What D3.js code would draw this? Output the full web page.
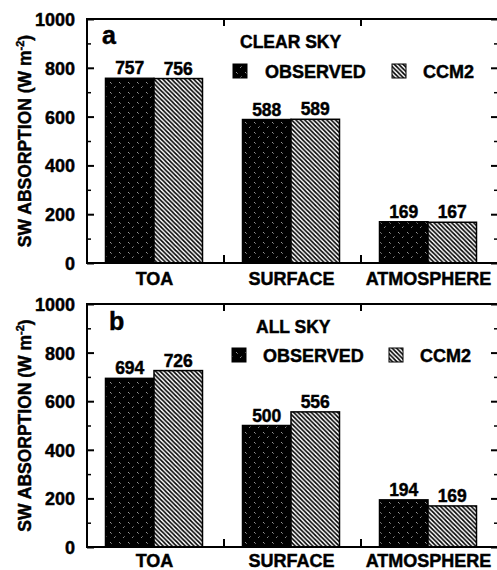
<!DOCTYPE html>
<html>
<head>
<meta charset="utf-8">
<script src="https://cdn.jsdelivr.net/npm/d3@7"></script>
<style>
  html, body { margin: 0; padding: 0; background: #fff; }
  svg { display: block; }
  text { font-family: "Liberation Sans", Arial, Helvetica, sans-serif; font-weight: bold; fill: #000;
         stroke: #000; stroke-width: 0.45px; }
</style>
</head>
<body>
<script>
// Shortwave absorption: observed vs. CCM2, clear sky (a) and all sky (b)
const categories = ["TOA", "SURFACE", "ATMOSPHERE"];
const seriesNames = ["OBSERVED", "CCM2"];
const clearSkyObserved = [757, 588, 169];
const clearSkyCCM2 = [756, 589, 167];
const allSkyObserved = [694, 500, 194];
const allSkyCCM2 = [726, 556, 169];
const yTicks = [0, 200, 400, 600, 800, 1000];
const yMinorTicks = [100, 300, 500, 700, 900];
const panels = [
  { letter: "a", title: "CLEAR SKY", values: [clearSkyObserved, clearSkyCCM2] },
  { letter: "b", title: "ALL SKY", values: [allSkyObserved, allSkyCCM2] }
];

const W = 497, H = 570;
const svg = d3.select("body").append("svg").attr("width", W).attr("height", H);
const defs = svg.append("defs");

// Dark halftone fill for observed bars
const dots = defs.append("pattern").attr("id", "obsFill")
  .attr("patternUnits", "userSpaceOnUse").attr("width", 9).attr("height", 10);
dots.append("rect").attr("width", 9).attr("height", 10).attr("fill", "#000");
[[2, 2, "#999"], [3, 3, "#666"], [6, 7, "#888"], [7, 6, "#555"]].forEach(([x, y, c]) =>
  dots.append("rect").attr("x", x).attr("y", y).attr("width", 1).attr("height", 1).attr("fill", c));

// Diagonal hatching for model bars
const P = 4.4;
const hatch = defs.append("pattern").attr("id", "ccmFill")
  .attr("patternUnits", "userSpaceOnUse").attr("width", P).attr("height", P);
hatch.append("rect").attr("width", P).attr("height", P).attr("fill", "#fff");
hatch.append("path")
  .attr("d", `M-1,-1L${P + 1},${P + 1}M-1,${P - 1}L1,${P + 1}M${P - 1},-1L${P + 1},1`)
  .attr("stroke", "#000").attr("stroke-width", 1.6);

const fills = ["url(#obsFill)", "url(#ccmFill)"];

const left = 87, right = 498;
const layout = [{ top: 19, bottom: 263, labelGap: 21.5 }, { top: 304, bottom: 547, labelGap: 20 }];

const x = d3.scaleBand().domain(categories).range([left, right]);
const groupWidth = 97;
const xs = d3.scaleBand().domain(seriesNames).range([0, groupWidth]);

panels.forEach((p, i) => {
  const { top, bottom, labelGap } = layout[i];
  const y = d3.scaleLinear().domain([0, 1000]).range([bottom, top]);
  const g = svg.append("g");

  // bars
  categories.forEach((c, ci) => {
    const gx = x(c) + x.bandwidth() / 2 - groupWidth / 2 - 1.5;
    seriesNames.forEach((s, si) => {
      const v = p.values[si][ci];
      g.append("rect")
        .attr("x", gx + xs(s)).attr("y", y(v))
        .attr("width", xs.bandwidth()).attr("height", y(0) - y(v))
        .attr("fill", fills[si]).attr("stroke", "#000").attr("stroke-width", 1.5);
      g.append("text")
        .attr("x", gx + xs(s) + xs.bandwidth() / 2).attr("y", y(v) - 4)
        .attr("text-anchor", "middle").attr("font-size", 17.5)
        .text(v);
    });
  });

  // left axis
  const yAxis = d3.axisLeft(y).tickValues(yTicks).tickSize(-7).tickPadding(12).tickFormat(d3.format("d"));
  const ga = g.append("g").attr("transform", `translate(${left},0)`).call(yAxis);
  ga.attr("font-family", null);
  ga.select(".domain").remove();
  ga.selectAll("line").attr("stroke-width", 2);
  ga.selectAll("text").attr("font-size", 18).attr("fill", null).attr("dy", "0.36em");

  const gm = g.append("g").attr("transform", `translate(${left},0)`)
    .call(d3.axisLeft(y).tickValues(yMinorTicks).tickSize(-4).tickFormat(""));
  gm.select(".domain").remove();
  gm.selectAll("line").attr("stroke-width", 1.5);

  // right-hand inward ticks
  const gr = g.append("g").attr("transform", `translate(${right},0)`)
    .call(d3.axisRight(y).tickValues(yTicks).tickSize(-7).tickFormat(""));
  gr.select(".domain").remove();
  gr.selectAll("line").attr("stroke-width", 2);
  const grm = g.append("g").attr("transform", `translate(${right},0)`)
    .call(d3.axisRight(y).tickValues(yMinorTicks).tickSize(-4).tickFormat(""));
  grm.select(".domain").remove();
  grm.selectAll("line").attr("stroke-width", 1.5);

  // category separator ticks on top and bottom
  const seps = categories.slice(1).map(c => x(c));
  seps.forEach(sx => {
    g.append("line").attr("x1", sx).attr("x2", sx).attr("y1", bottom).attr("y2", bottom - 8)
      .attr("stroke", "#000").attr("stroke-width", 2);
    g.append("line").attr("x1", sx).attr("x2", sx).attr("y1", top).attr("y2", top + 7)
      .attr("stroke", "#000").attr("stroke-width", 2);
  });

  // frame
  g.append("path")
    .attr("d", `M${right},${top}H${left}V${bottom}H${right}`)
    .attr("fill", "none").attr("stroke", "#000").attr("stroke-width", 2);

  // category labels
  categories.forEach(c => {
    g.append("text").attr("x", x(c) + x.bandwidth() / 2 - 1).attr("y", bottom + labelGap)
      .attr("text-anchor", "middle").attr("font-size", 18).text(c);
  });

  // y title
  const t = g.append("text")
    .attr("transform", `translate(31,${(top + bottom) / 2}) rotate(-90)`)
    .attr("text-anchor", "middle").attr("font-size", 17.5);
  t.append("tspan").text("SW ABSORPTION (W m");
  t.append("tspan").attr("font-size", 11).attr("dy", -7).text("-2");
  t.append("tspan").attr("dy", 7).text(")");

  // panel letter and title
  g.append("text").attr("x", i === 0 ? 102 : 109).attr("y", top + (i === 0 ? 25 : 26))
    .attr("font-size", 25).text(p.letter);
  g.append("text").attr("x", i === 0 ? 240 : 256).attr("y", top + 29)
    .attr("font-size", 17.5).text(p.title);

  // legend
  const ly = top + (i === 0 ? 45 : 44);
  const legendX = i === 0 ? [233, 265, 392, 423] : [232, 263, 389, 420];
  seriesNames.forEach((s, si) => {
    g.append("rect").attr("x", legendX[si * 2]).attr("y", ly).attr("width", 14).attr("height", 14)
      .attr("fill", fills[si]).attr("stroke", "#000").attr("stroke-width", 1);
    g.append("text").attr("x", legendX[si * 2 + 1]).attr("y", ly + 14)
      .attr("font-size", 18).text(s);
  });
});
</script>
</body>
</html>
